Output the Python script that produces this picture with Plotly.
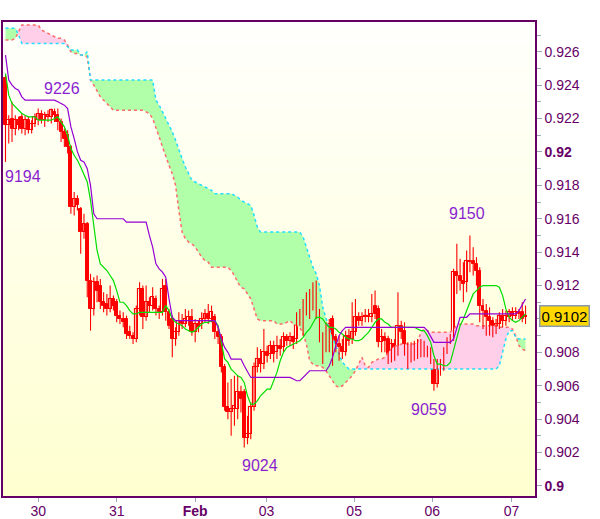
import numpy as np
import plotly.graph_objects as go

# ---------------- data (prices in 1e-4 units, hourly bars) ----------------
bar_open = [9244,9216,9220,9214,9219,9221,9214,9219,9213,9217,9219,9223,9219,9221,9221,9224,9222,9218,9212,9210,
            9203,9167,9172,9166,9152,9157,9123,9106,9122,9120,9110,9109,9106,9112,9110,9102,9100,9100,9092,9090,
            9088,9106,9118,9101,9110,9108,9112,9106,9104,9120,9104,9100,9088,9092,9099,9097,9099,9101,9092,9097,
            9097,9100,9103,9100,9101,9092,9089,9071,9047,9044,9046,9046,9056,9056,9029,9031,9047,9071,9076,9073,
            9080,9079,9084,9080,9084,9083,9089,9087,9089,9088,9102,9094,9110,9105,9108,9120,9104,9090,9086,9095,
            9100,9089,9085,9083,9080,9090,9088,9092,9101,9099,9101,9102,9101,9108,9106,9086,9089,9088,9079,9085,
            9082,9096,9093,9083,9078,9083,9080,9085,9083,9081,9080,9075,9061,9074,9071,9081,9087,9089,9128,9126,
            9123,9122,9135,9135,9133,9129,9108,9105,9101,9099,9094,9097,9102,9099,9101,9104,9102,9104,9104,9101]
bar_high = [9246,9222,9230,9222,9221,9223,9222,9221,9219,9223,9226,9225,9224,9225,9226,9226,9226,9220,9214,9213,
            9204,9176,9174,9167,9163,9158,9127,9125,9126,9124,9116,9115,9120,9114,9112,9105,9104,9102,9096,9092,
            9108,9122,9120,9120,9113,9119,9114,9108,9124,9124,9106,9102,9095,9104,9103,9106,9105,9106,9100,9099,
            9104,9106,9109,9108,9103,9096,9091,9073,9062,9064,9066,9066,9060,9058,9042,9050,9074,9083,9082,9094,
            9084,9087,9087,9090,9088,9092,9091,9092,9090,9104,9106,9112,9116,9118,9122,9123,9106,9092,9098,9100,
            9102,9091,9090,9088,9093,9094,9110,9112,9104,9104,9106,9106,9115,9117,9108,9094,9092,9090,9088,9088,
            9116,9099,9098,9086,9086,9087,9088,9088,9087,9084,9083,9076,9076,9076,9083,9089,9091,9130,9145,9136,
            9134,9141,9150,9143,9137,9131,9112,9109,9107,9101,9100,9104,9106,9105,9106,9107,9107,9106,9110,9108]
bar_low = [9194,9205,9206,9210,9213,9211,9210,9211,9211,9215,9216,9217,9215,9218,9217,9218,9213,9206,9203,9199,
           9163,9162,9165,9139,9148,9113,9093,9102,9110,9106,9104,9102,9104,9105,9098,9097,9095,9088,9088,9085,
           9086,9102,9094,9099,9104,9105,9102,9100,9102,9099,9094,9077,9084,9090,9094,9095,9096,9090,9086,9092,
           9094,9098,9097,9098,9088,9085,9068,9045,9040,9030,9036,9040,9044,9023,9025,9028,9045,9068,9068,9070,
           9074,9076,9074,9076,9078,9080,9084,9084,9082,9085,9096,9090,9102,9100,9105,9100,9086,9073,9080,9080,
           9072,9080,9075,9076,9078,9084,9085,9090,9096,9096,9098,9098,9098,9100,9083,9080,9080,9073,9074,9075,
           9078,9088,9078,9070,9074,9075,9076,9077,9077,9077,9073,9057,9059,9066,9069,9079,9085,9087,9115,9117,
           9110,9116,9128,9126,9120,9098,9094,9090,9090,9089,9091,9094,9095,9096,9098,9099,9100,9100,9098,9097]
bar_close = [9216,9219,9214,9219,9216,9214,9219,9213,9217,9221,9223,9219,9222,9222,9225,9222,9218,9212,9208,9203,
             9167,9172,9168,9152,9157,9123,9106,9122,9117,9110,9108,9106,9112,9108,9102,9100,9098,9091,9090,9088,
             9106,9118,9101,9110,9108,9113,9106,9104,9118,9104,9096,9088,9092,9099,9097,9100,9101,9092,9097,9095,
             9100,9103,9100,9104,9092,9089,9071,9047,9044,9046,9048,9056,9052,9029,9031,9047,9071,9076,9073,9080,
             9078,9084,9079,9084,9082,9089,9087,9089,9086,9102,9099,9110,9105,9114,9120,9104,9090,9086,9095,9097,
             9089,9085,9083,9080,9090,9087,9092,9101,9099,9101,9102,9101,9103,9103,9086,9089,9087,9078,9085,9081,
             9096,9092,9082,9078,9083,9080,9085,9082,9081,9080,9076,9061,9074,9070,9081,9087,9089,9128,9126,9123,
             9121,9135,9134,9133,9129,9108,9105,9101,9099,9092,9097,9102,9099,9102,9104,9102,9104,9103,9100,9102]

# conversion line (green) and base line (purple)
green_line = [9247,9234,9229,9227,9225,9223,9222,9221,9221,9221,9219,9219,9219,9219,9219,9220,9221,9218,9215,9210,
              9202,9198,9195,9191,9186,9182,9171,9156,9141,9133,9131,9129,9126,9123,9117,9110,9110,9108,9105,9103,
              9103,9104,9104,9104,9104,9104,9104,9104,9104,9108,9105,9100,9098,9097,9096,9094,9093,9092,9093,9095,
              9097,9098,9098,9099,9099,9096,9087,9076,9074,9070,9068,9066,9065,9062,9054,9049,9049,9051,9054,9056,
              9058,9058,9063,9068,9075,9080,9083,9084,9085,9086,9087,9089,9092,9094,9098,9101,9101,9100,9097,9095,
              9095,9094,9092,9091,9089,9088,9088,9087,9087,9088,9090,9092,9095,9098,9100,9100,9098,9097,9095,9095,
              9095,9095,9095,9095,9095,9095,9094,9093,9093,9090,9086,9078,9073,9073,9072,9072,9074,9081,9088,9096,
              9100,9105,9110,9115,9117,9119,9120,9120,9120,9120,9120,9119,9114,9106,9101,9099,9098,9099,9101,9103]
purple_line = [9258,9243,9240,9238,9237,9233,9231,9231,9231,9231,9231,9231,9231,9231,9231,9231,9230,9229,9228,9226,
               9215,9208,9200,9195,9194,9190,9180,9163,9160,9160,9160,9160,9160,9160,9160,9160,9160,9158,9158,9158,
               9158,9158,9158,9158,9150,9143,9133,9130,9128,9125,9112,9101,9099,9099,9099,9099,9099,9099,9099,9099,
               9099,9099,9099,9099,9099,9095,9088,9083,9080,9076,9076,9076,9076,9072,9068,9065,9065,9065,9065,9065,
               9065,9065,9065,9065,9065,9065,9065,9065,9064,9063,9063,9065,9067,9069,9069,9069,9069,9069,9069,9072,
               9077,9084,9090,9093,9095,9095,9095,9095,9095,9095,9095,9095,9095,9095,9095,9095,9095,9095,9095,9095,
               9095,9095,9095,9095,9095,9095,9095,9095,9095,9093,9089,9086,9086,9086,9086,9086,9086,9088,9095,9101,
               9101,9101,9103,9103,9103,9103,9103,9103,9103,9103,9103,9103,9103,9103,9103,9103,9103,9105,9109,9112]
# leading spans (cloud edges)
span_a = [9274,9274,9274,9274,9270,9265,9265,9265,9265,9265,9265,9265,9265,9265,9265,9265,9265,9265,9265,9263,
          9261,9261,9261,9258,9258,9260,9243,9243,9243,9243,9243,9243,9243,9243,9243,9243,9243,9243,9243,9243,
          9243,9243,9243,9243,9243,9243,9231,9228,9224,9220,9217,9212,9207,9201,9196,9191,9187,9183,9182,9181,
          9180,9179,9178,9177,9175,9175,9175,9175,9175,9175,9174,9173,9171,9170,9169,9168,9162,9155,9152,9152,
          9152,9152,9152,9152,9152,9152,9152,9152,9152,9152,9152,9149,9143,9136,9131,9127,9120,9107,9100,9094,
          9089,9084,9078,9074,9072,9070,9070,9070,9070,9070,9070,9070,9070,9070,9070,9070,9070,9070,9070,9070,
          9070,9070,9070,9070,9070,9070,9070,9070,9070,9070,9070,9070,9070,9070,9070,9070,9070,9070,9070,9070,
          9070,9070,9070,9070,9070,9070,9070,9070,9070,9070,9070,9072,9080,9088,9093,9093,9089,9088,9088,9088]
span_b = [9267,9267,9267,9268,9272,9276,9276,9276,9276,9276,9276,9273,9272,9271,9270,9269,9268,9268,9267,9264,
          9260,9259,9259,9258,9258,9257,9243,9240,9236,9233,9231,9229,9227,9225,9225,9225,9225,9225,9225,9225,
          9225,9225,9225,9224,9223,9220,9215,9209,9203,9197,9192,9187,9180,9165,9152,9148,9146,9145,9143,9140,
          9137,9135,9134,9131,9131,9131,9131,9131,9131,9129,9126,9122,9119,9118,9115,9112,9106,9100,9099,9099,
          9099,9099,9099,9097,9097,9097,9098,9099,9097,9096,9095,9091,9085,9075,9073,9072,9072,9071,9069,9066,
          9063,9060,9059,9060,9062,9064,9066,9069,9073,9077,9072,9071,9074,9075,9076,9076,9077,9080,9082,9084,
          9084,9085,9085,9085,9085,9085,9086,9092,9094,9093,9092,9092,9092,9092,9092,9092,9092,9094,9096,9097,
          9097,9097,9097,9097,9096,9096,9096,9096,9096,9096,9096,9095,9095,9095,9095,9094,9090,9084,9082,9081]

# axis ticks
x_tick_pos = [10, 34, 58, 79.8, 106.6, 130.5, 154.7]
x_tick_text = ['30', '31', '<b>Feb</b>', '03', '05', '06', '07']
y_tick_vals = [0.900, 0.902, 0.904, 0.906, 0.908, 0.910, 0.912, 0.914, 0.916, 0.918, 0.920, 0.922, 0.924, 0.926]
y_tick_text = ['<b>0.9</b>', '0.902', '0.904', '0.906', '0.908', '', '0.912', '0.914', '0.916', '0.918',
               '<b>0.92</b>', '0.922', '0.924', '0.926']
y_minor_vals = [0.901, 0.903, 0.905, 0.907, 0.909, 0.911, 0.913, 0.915, 0.917, 0.919, 0.921, 0.923, 0.925, 0.927]

# extreme labels
ext_text = ['9226', '9194', '9024', '9059', '9150']
ext_bar = [17.3, 5.4, 77.8, 129.5, 141.1]
ext_price = [0.92377, 0.91855, 0.90125, 0.90455, 0.91634]
last_price = 0.9102

# ---------------- build ----------------
S = 10000.0
o = np.array(bar_open) / S
h = np.array(bar_high) / S
l = np.array(bar_low) / S
c = np.array(bar_close) / S
g = np.array(green_line) / S
p = np.array(purple_line) / S
a = np.array(span_a) / S
b = np.array(span_b) / S
idx = np.arange(len(o))
top = np.maximum(a, b)

PURPLE = '#660066'
RED = '#ff0000'
FONT = 'Liberation Sans'
fig = go.Figure()

# cloud fills
fig.add_trace(go.Scatter(x=idx, y=b, mode='lines', line=dict(width=0), hoverinfo='skip'))
fig.add_trace(go.Scatter(x=idx, y=top, mode='lines', line=dict(width=0), fill='tonexty',
                         fillcolor='rgb(178,255,170)', hoverinfo='skip'))
fig.add_trace(go.Scatter(x=idx, y=a, mode='lines', line=dict(width=0), hoverinfo='skip'))
fig.add_trace(go.Scatter(x=idx, y=top, mode='lines', line=dict(width=0), fill='tonexty',
                         fillcolor='rgb(255,206,232)', hoverinfo='skip'))
# cloud edges
fig.add_trace(go.Scatter(x=idx, y=b, mode='lines', line=dict(color='#ff6a6a', width=1.5, dash='3px,3px')))
fig.add_trace(go.Scatter(x=idx, y=a, mode='lines', line=dict(color='#22ddff', width=1.5, dash='3px,3px')))

# candles: wicks
wx, wy = [], []
for i in idx:
    wx += [i, i, None]
    wy += [l[i], h[i], None]
fig.add_trace(go.Scatter(x=wx, y=wy, mode='lines', line=dict(color=RED, width=1.1), hoverinfo='skip'))
# candles: bodies
up = c >= o
body_base = np.minimum(o, c)
body_len = np.maximum(np.abs(c - o), 0.00003)
fig.add_trace(go.Bar(x=idx[~up], base=body_base[~up], y=body_len[~up], width=0.9,
                     marker=dict(color=RED, line=dict(color=RED, width=1))))
fig.add_trace(go.Bar(x=idx[up], base=body_base[up], y=body_len[up], width=0.9,
                     marker=dict(color='rgb(255,255,235)', line=dict(color=RED, width=1.1))))

# lines
fig.add_trace(go.Scatter(x=idx, y=g, mode='lines', line=dict(color='#00dd00', width=1.2)))
fig.add_trace(go.Scatter(x=idx, y=p, mode='lines', line=dict(color='#9400d3', width=1.2)))

# gradient background
shapes = []
N = 60
for k in range(N):
    t = (k + 0.5) / N
    bb = int(round(253 - (253 - 208) * t))
    shapes.append(dict(type='rect', xref='paper', yref='paper', x0=0, x1=1,
                       y0=1 - (k + 1) / N, y1=1 - k / N + 0.001, fillcolor=f'rgb(255,255,{bb})',
                       line=dict(width=0), layer='below'))

annotations = []
for txt, xb, yp in zip(ext_text, ext_bar, ext_price):
    annotations.append(dict(x=xb, y=yp, text=txt, showarrow=False, xref='x', yref='y',
                            font=dict(family=FONT, size=16, color='#8a1fd0')))
annotations.append(dict(x=1, xref='paper', y=last_price, yref='y', xanchor='left', xshift=4,
                        text='0.9102', showarrow=False, bgcolor='#ffd800', bordercolor='#8a9aaa',
                        borderwidth=1.5, borderpad=1, font=dict(family=FONT, size=15, color='#000000')))

fig.update_layout(
    width=600, height=519,
    margin=dict(l=3, r=65, t=22, b=23, autoexpand=False),
    paper_bgcolor='white', plot_bgcolor='rgb(255,255,230)',
    shapes=shapes, annotations=annotations,
    showlegend=False, hovermode=False, barmode='overlay', bargap=0,
    xaxis=dict(range=[-0.76, 161.9], tickmode='array', tickvals=x_tick_pos, ticktext=x_tick_text,
               ticks='outside', ticklen=4, tickcolor='#9aa8b8', showline=True, linecolor=PURPLE,
               linewidth=1.5, mirror=True, showgrid=False, zeroline=False, automargin=False,
               ticklabelstandoff=-3,
               tickfont=dict(family=FONT, size=14, color=PURPLE)),
    yaxis=dict(range=[0.8994, 0.92778], side='right', tickmode='array', tickvals=y_tick_vals,
               ticktext=y_tick_text, ticks='outside', ticklen=5, tickcolor='#9aa8b8', showline=True,
               linecolor=PURPLE, linewidth=1.5, mirror=True, showgrid=False, zeroline=False,
               automargin=False,
               minor=dict(tickmode='array', tickvals=y_minor_vals, ticks='outside', ticklen=4,
                          tickcolor='#9aa8b8', showgrid=False),
               tickfont=dict(family=FONT, size=14, color=PURPLE)),
)

fig.write_html('out.html', config={'displayModeBar': False},
               post_script="document.body.style.margin='0px';document.body.style.padding='0px';"
                           "document.body.style.overflow='hidden';")
